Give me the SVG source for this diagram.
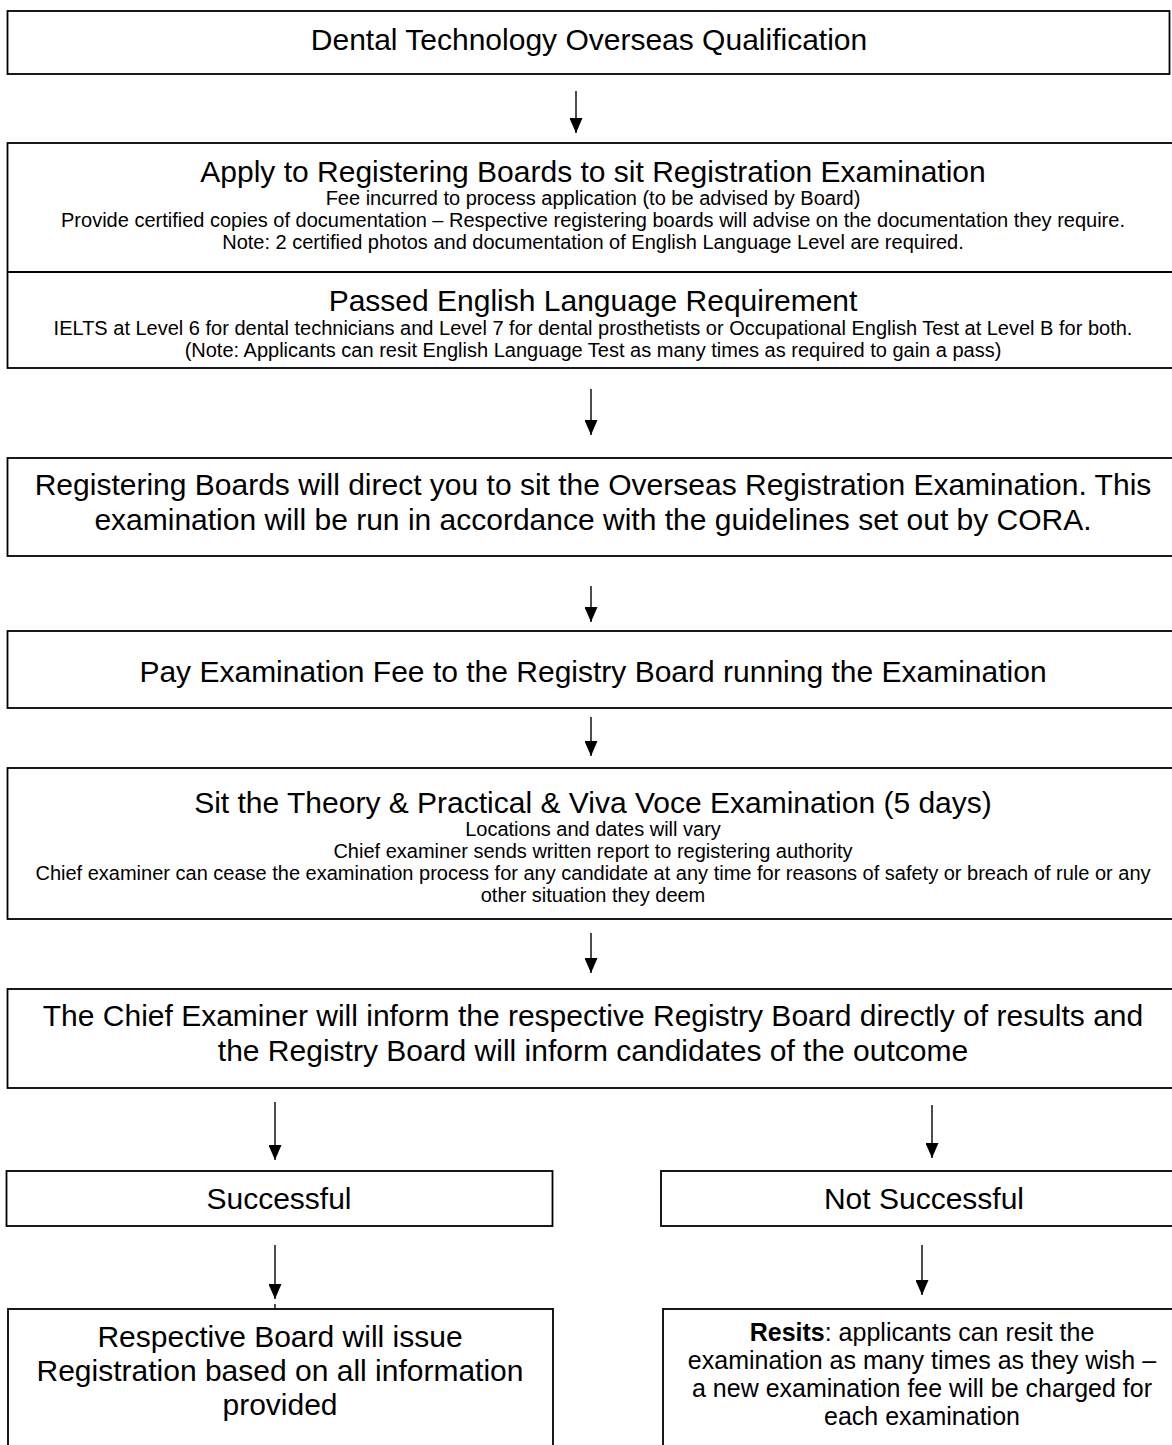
<svg xmlns="http://www.w3.org/2000/svg" width="1172" height="1445" viewBox="0 0 1172 1445">
<defs>
<style>
.box{fill:#fff;stroke:#000;stroke-width:1.8}
.div{stroke:#000;stroke-width:1.8}
.big{font-family:"Liberation Sans",Arial,sans-serif;font-size:30px;fill:#000;text-anchor:middle}
.small{font-family:"Liberation Sans",Arial,sans-serif;font-size:20px;fill:#000;text-anchor:middle}
.mid{font-family:"Liberation Sans",Arial,sans-serif;font-size:25px;fill:#000;text-anchor:middle}
.conn line{stroke:#000;stroke-width:1.4}
.conn line.arrow{marker-end:url(#ah)}
</style>
<marker id="ah" viewBox="0 0 15 13" refX="15" refY="6.5" markerWidth="15" markerHeight="13" markerUnits="userSpaceOnUse" orient="auto">
<path d="M0,0 L15,6.5 L0,13 z" fill="#000"/>
</marker>
</defs>
<rect width="1172" height="1445" fill="#fff"/>

<g id="n1">
<rect class="box" x="7.5" y="11" width="1162" height="63"/>
<text class="big" x="589" y="50">Dental Technology Overseas Qualification</text>
</g>

<g id="n2">
<rect class="box" x="7.5" y="143" width="1180" height="225"/>
<line class="div" x1="7.5" y1="272" x2="1180" y2="272"/>
<text class="big" x="593" y="182">Apply to Registering Boards to sit Registration Examination</text>
<text class="small" x="593" y="205">Fee incurred to process application (to be advised by Board)</text>
<text class="small" x="593" y="227">Provide certified copies of documentation – Respective registering boards will advise on the documentation they require.</text>
<text class="small" x="593" y="249">Note: 2 certified photos and documentation of English Language Level are required.</text>
<text class="big" x="593" y="311">Passed English Language Requirement</text>
<text class="small" x="593" y="335">IELTS at Level 6 for dental technicians and Level 7 for dental prosthetists or Occupational English Test at Level B for both.</text>
<text class="small" x="593" y="357">(Note: Applicants can resit English Language Test as many times as required to gain a pass)</text>
</g>

<g id="n3">
<rect class="box" x="7.5" y="458" width="1180" height="98"/>
<text class="big" x="593" y="495">Registering Boards will direct you to sit the Overseas Registration Examination. This</text>
<text class="big" x="593" y="530">examination will be run in accordance with the guidelines set out by CORA.</text>
</g>

<g id="n4">
<rect class="box" x="7.5" y="631" width="1180" height="77"/>
<text class="big" x="593" y="682">Pay Examination Fee to the Registry Board running the Examination</text>
</g>

<g id="n5">
<rect class="box" x="7.5" y="768" width="1180" height="151"/>
<text class="big" x="593" y="813">Sit the Theory &amp; Practical &amp; Viva Voce Examination (5 days)</text>
<text class="small" x="593" y="836">Locations and dates will vary</text>
<text class="small" x="593" y="858">Chief examiner sends written report to registering authority</text>
<text class="small" x="593" y="880">Chief examiner can cease the examination process for any candidate at any time for reasons of safety or breach of rule or any</text>
<text class="small" x="593" y="902">other situation they deem</text>
</g>

<g id="n6">
<rect class="box" x="7.5" y="989" width="1180" height="99"/>
<text class="big" x="593" y="1026">The Chief Examiner will inform the respective Registry Board directly of results and</text>
<text class="big" x="593" y="1061">the Registry Board will inform candidates of the outcome</text>
</g>

<g id="n7">
<rect class="box" x="6.5" y="1171" width="546" height="55"/>
<text class="big" x="279" y="1209">Successful</text>
</g>

<g id="n8">
<rect class="box" x="661" y="1171" width="530" height="55"/>
<text class="big" x="924" y="1209">Not Successful</text>
</g>

<g id="n9">
<rect class="box" x="8" y="1309" width="545" height="160"/>
<text class="big" x="280" y="1347">Respective Board will issue</text>
<text class="big" x="280" y="1381">Registration based on all information</text>
<text class="big" x="280" y="1415">provided</text>
</g>

<g id="n10">
<rect class="box" x="663" y="1309" width="528" height="160"/>
<text class="mid" x="922" y="1341"><tspan font-weight="bold">Resits</tspan>: applicants can resit the</text>
<text class="mid" x="922" y="1369">examination as many times as they wish –</text>
<text class="mid" x="922" y="1397">a new examination fee will be charged for</text>
<text class="mid" x="922" y="1425">each examination</text>
</g>

<g id="connectors" class="conn">
<line class="arrow" x1="576" y1="91" x2="576" y2="133"/>
<line class="arrow" x1="591" y1="389" x2="591" y2="435"/>
<line class="arrow" x1="591" y1="586" x2="591" y2="622"/>
<line class="arrow" x1="591" y1="717" x2="591" y2="756"/>
<line class="arrow" x1="591" y1="933" x2="591" y2="973"/>
<line class="arrow" x1="275" y1="1102" x2="275" y2="1160"/>
<line class="arrow" x1="932" y1="1105" x2="932" y2="1158"/>
<line class="arrow" x1="275" y1="1245" x2="275" y2="1299"/>
<line x1="275" y1="1304" x2="275" y2="1309"/>
<line class="arrow" x1="922" y1="1245" x2="922" y2="1295"/>
</g>
</svg>
